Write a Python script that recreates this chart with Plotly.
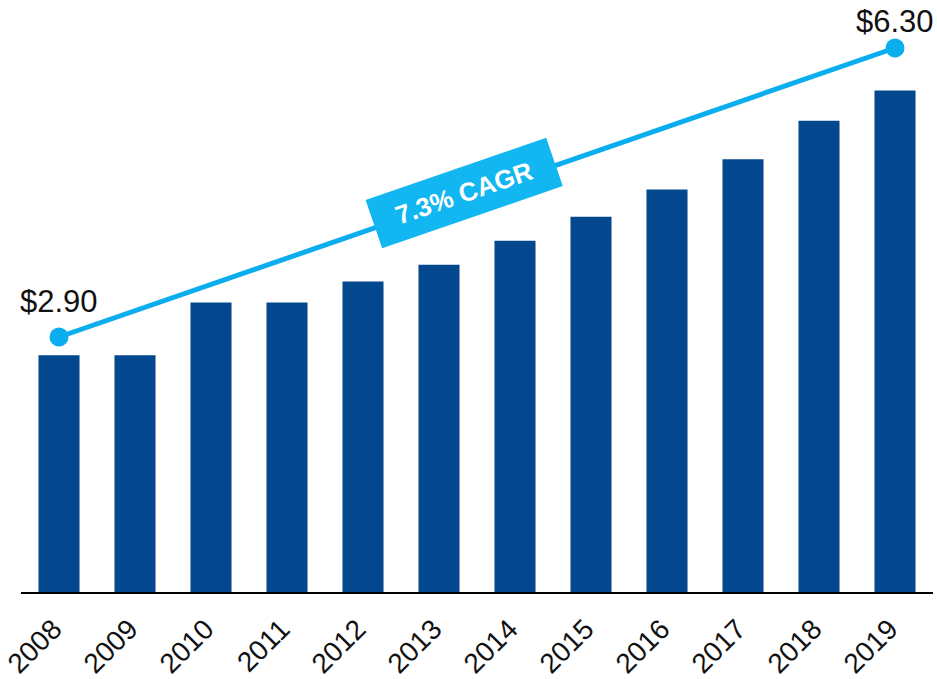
import plotly.graph_objects as go

years = ["2008", "2009", "2010", "2011", "2012", "2013",
         "2014", "2015", "2016", "2017", "2018", "2019"]
values = [2.96, 2.96, 3.62, 3.62, 3.88, 4.09, 4.39, 4.69, 5.03, 5.41, 5.89, 6.27]

trend_years = ["2008", "2019"]
trend_values = [2.90, 6.30]
trend_labels = ["$2.90", "$6.30"]
cagr_label = "7.3% CAGR"

BAR = "#03478F"
LINE = "#0AAEEF"
BOX = "#12B6F0"
FONT = "Liberation Sans, Arial, sans-serif"

fig = go.Figure()
fig.add_trace(go.Bar(x=years, y=values, marker=dict(color=BAR, line=dict(width=0)),
                     hoverinfo="skip"))
fig.add_trace(go.Scatter(x=trend_years, y=trend_values, yaxis="y2", mode="lines+markers",
                         line=dict(color=LINE, width=5),
                         marker=dict(color=LINE, size=19), hoverinfo="skip"))

shifts = [36, 27]
for yr, v, lab, s in zip(trend_years, trend_values, trend_labels, shifts):
    fig.add_annotation(x=years.index(yr), y=v, xref="x", yref="y2", text=lab,
                       showarrow=False, yshift=s,
                       font=dict(family=FONT, size=31, color="#111111"))

fig.add_annotation(x=5.33, y=4.60, xref="x", yref="y2", text="<b>" + cagr_label + "</b>",
                   showarrow=False, textangle=-19, bgcolor=BOX, width=172, height=32,
                   borderpad=9, font=dict(family=FONT, size=26, color="white"))

fig.update_layout(
    width=937, height=679,
    margin=dict(l=21, r=4, t=0, b=87),
    plot_bgcolor="white", paper_bgcolor="white",
    showlegend=False, bargap=0.46,
    xaxis=dict(type="category", range=[-0.5, len(years) - 0.5], autorange=False,
               showgrid=False, ticks="", showline=True,
               linecolor="black", linewidth=2, tickangle=-45,
               tickvals=years, ticktext=[y + "\u00a0" for y in years],
               ticklabelstandoff=2,
               tickfont=dict(family=FONT, size=28, color="#111111")),
    yaxis=dict(range=[0, 7.4], visible=False, showgrid=False, zeroline=False),
    yaxis2=dict(range=[-0.1, 6.8647], overlaying="y", visible=False,
                showgrid=False, zeroline=False),
)

fig.write_html("out.html", config={"displayModeBar": False},
               post_script="document.body.style.margin='0';")
